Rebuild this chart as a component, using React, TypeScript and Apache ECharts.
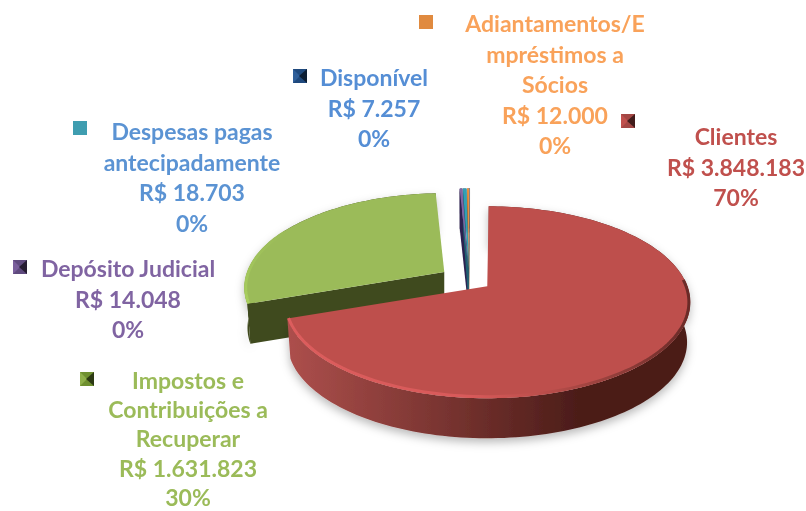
import React, { useEffect, useRef } from "react";
import * as echarts from "echarts";

const names = [
  "Disponível",
  "Clientes",
  "Impostos e\nContribuições a\nRecuperar",
  "Depósito Judicial",
  "Despesas pagas\nantecipadamente",
  "Adiantamentos/E\nmpréstimos a\nSócios",
];
const values = [7257, 3848183, 1631823, 14048, 18703, 12000];
const percentLabels = ["0%", "70%", "30%", "0%", "0%", "0%"];

const FONT = "Lato, Carlito, Calibri, sans-serif";
const looks = [
  { top: "#4f81bd", wallA: "#2c4a6e", wallB: "#1c3350", text: "#558ed5", key: "#1f497d", keyHi: "#2f5f9a", bevel: true, nudgeX: 3, nudgeY: 3, scale: 1, labelX: 374, labelY: 62, lineH: 30.5, keyX: 293, keyY: 69 },
  { top: "#be4f4c", wallA: "#ad4f4c", wallB: "#4c1d19", text: "#c0504d", key: "#a34744", keyHi: "#c0504d", bevel: true, nudgeX: 0, nudgeY: 1, scale: 1, labelX: 736, labelY: 121, lineH: 30.5, keyX: 621, keyY: 114 },
  { top: "#9bbb59", wallA: "#3f4a1e", wallB: "#3f4a1e", text: "#9bbb59", key: "#6f9030", keyHi: "#8fb04a", bevel: true, nudgeX: 1, nudgeY: 1, scale: 0.985, labelX: 188, labelY: 365, lineH: 29.3, keyX: 80, keyY: 372 },
  { top: "#8064a2", wallA: "#3a2c58", wallB: "#2c2150", text: "#8064a2", key: "#5f4a7e", keyHi: "#7a5f9c", bevel: true, nudgeX: 4, nudgeY: 3, scale: 1, labelX: 128, labelY: 253, lineH: 30.5, keyX: 13, keyY: 260 },
  { top: "#31a0b5", wallA: "#1f5f70", wallB: "#1f5f70", text: "#5b93d3", key: "#3f9db0", keyHi: "#3f9db0", bevel: false, nudgeX: 4, nudgeY: 3, scale: 1, labelX: 192, labelY: 116, lineH: 30.5, keyX: 73, keyY: 121 },
  { top: "#e8903f", wallA: "#9a5a22", wallB: "#9a5a22", text: "#f9a25a", key: "#e08a3f", keyHi: "#e08a3f", bevel: false, nudgeX: 4, nudgeY: 3, scale: 1, labelX: 555, labelY: 8, lineH: 30.5, keyX: 419, keyY: 15 },
];

const total = values.reduce((a, b) => a + b, 0);
const CX = 465.5;
const CY = 278;
const SX = 200;
const SY = 93.3;
const P = 1 / 6;
const EXPLODE = 0.134;
const DEPTH = 40;

function rimPoint(ax: number, ay: number, deg: number, scale: number): number[] {
  const t = (deg * Math.PI) / 180;
  const u = Math.sin(t);
  const v = -Math.cos(t);
  const d = 1 - P * v;
  return [ax + (scale * SX * u) / d, ay + (scale * SY * v) / d];
}

function renderSlice(params: any, api: any) {
  const i = params.dataIndex;
  const value = api.value(0) as number;
  const before = values.slice(0, i).reduce((a, b) => a + b, 0);
  const a0 = (before / total) * 360;
  const a1 = ((before + value) / total) * 360;
  const mid = (((a0 + a1) / 2) * Math.PI) / 180;
  const look = looks[i];
  const ax = CX + SX * EXPLODE * Math.sin(mid) + look.nudgeX;
  const ay = CY - SY * EXPLODE * Math.cos(mid) + look.nudgeY;
  const arc: number[][] = [];
  const n = Math.max(3, Math.ceil((a1 - a0) / 1.5));
  for (let k = 0; k <= n; k++) arc.push(rimPoint(ax, ay, a0 + ((a1 - a0) * k) / n, look.scale));
  const low = (p: number[]) => [ax + (p[0] - ax) * 0.985, p[1] + DEPTH];
  const z = Math.round(ay);
  const wallFill = {
    type: "linear", x: 0, y: 0, x2: 1, y2: 0,
    colorStops: [
      { offset: 0, color: look.wallA },
      { offset: 0.72, color: look.wallB },
      { offset: 1, color: look.wallB },
    ],
  };
  const apex = [ax, ay];
  const label = `${names[i]}\nR$ ${value.toLocaleString("pt-BR")}\n${percentLabels[i]}`;
  const big = a1 - a0 > 10;
  const facesFront = (deg: number) => Math.cos((deg * Math.PI) / 180) < 0;
  const children: any[] = [
    {
      type: "polygon", z2: z,
      shape: { points: [...arc, ...arc.slice().reverse().map(low)] },
      style: {
        fill: wallFill,
        shadowBlur: big ? 10 : 0, shadowColor: "rgba(0,0,0,0.28)", shadowOffsetY: 4,
      },
    },
  ];
  if (facesFront(a0 - 90)) {
    children.push({
      type: "polygon", z2: z + 1,
      shape: { points: [apex, arc[0], low(arc[0]), low(apex)] },
      style: { fill: look.wallB },
    });
  }
  if (facesFront(a1 + 90)) {
    children.push({
      type: "polygon", z2: z + 1,
      shape: { points: [apex, arc[n], low(arc[n]), low(apex)] },
      style: { fill: look.wallA },
    });
  }
  children.push({
    type: "polygon", z2: z + 2,
    shape: { points: [apex, ...arc] },
    style: { fill: look.top },
  });
  if (big) {
    const inset = (p: number[]) => [p[0] - (p[0] - ax) * 0.006, p[1] - (p[1] - ay) * 0.014];
    const isRed = i === 1;
    const front = isRed
      ? arc.filter((_, k) => a0 + ((a1 - a0) * k) / n >= 85)
      : arc.filter((_, k) => a0 + ((a1 - a0) * k) / n <= 300);
    children.push({
      type: "polyline", z2: z + 3,
      shape: { points: front.map(inset) },
      style: {
        fill: "none", lineWidth: 3,
        stroke: isRed
          ? {
              type: "linear", x: 0, y: 0, x2: 1, y2: 0,
              colorStops: [
                { offset: 0, color: "#dc5d5d" },
                { offset: 0.45, color: "#d85a5a" },
                { offset: 0.62, color: look.top },
                { offset: 0.8, color: "#96403c" },
                { offset: 1, color: "#6a2a27" },
              ],
            }
          : {
              type: "linear", x: 0, y: 1, x2: 0, y2: 0,
              colorStops: [
                { offset: 0, color: "#a9cf5e" },
                { offset: 1, color: look.top },
              ],
            },
      },
    });
  }
  const kx = look.keyX;
  const ky = look.keyY;
  children.push({
    type: "rect", z2: 500,
    shape: { x: kx, y: ky, width: 14, height: 14 },
    style: { fill: look.key },
  });
  if (look.bevel) {
    children.push(
      {
        type: "polygon", z2: 501,
        shape: { points: [[kx, ky], [kx + 7, ky + 7], [kx, ky + 14]] },
        style: { fill: look.keyHi },
      },
      {
        type: "polygon", z2: 501,
        shape: { points: [[kx + 14, ky], [kx + 6, ky + 7], [kx + 14, ky + 14]] },
        style: { fill: "rgba(0,0,0,0.6)" },
      },
    );
  }
  children.push({
    type: "text", z2: 502,
    x: look.labelX, y: look.labelY,
    style: {
      text: label, align: "center", verticalAlign: "top",
      fontFamily: FONT, fontWeight: "bold", fontSize: 23, lineHeight: look.lineH,
      fill: look.text,
    },
  });
  return { type: "group", children };
}

export default function App() {
  const ref = useRef<HTMLDivElement>(null);
  useEffect(() => {
    const chart = echarts.init(ref.current!, undefined, { renderer: "svg" });
    chart.setOption({
      animation: false,
      backgroundColor: "#ffffff",
      series: [
        {
          type: "custom",
          coordinateSystem: "none",
          silent: true,
          clip: false,
          data: values.map((v, i) => ({ name: names[i], value: [v] })),
          encode: { value: 0 },
          renderItem: renderSlice,
        },
      ],
    });
    return () => chart.dispose();
  }, []);
  return (
    <div
      ref={ref}
      style={{ position: "fixed", left: 0, top: 0, width: 806, height: 511, filter: "blur(0.5px)" }}
    />
  );
}
